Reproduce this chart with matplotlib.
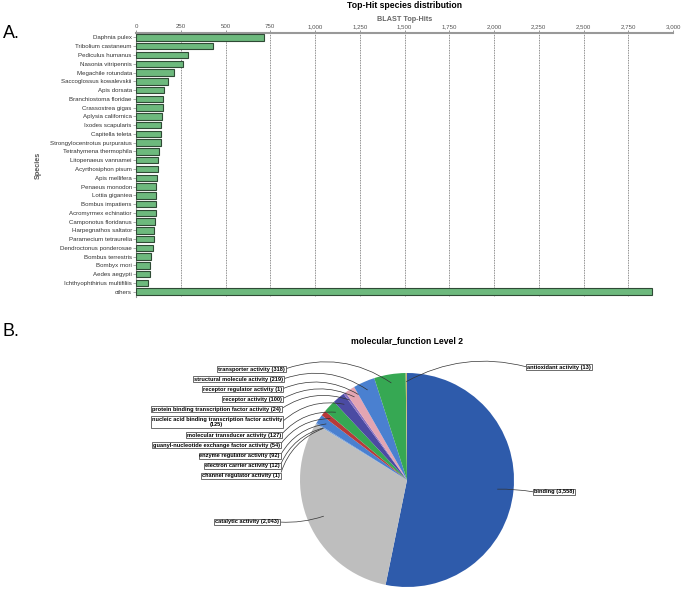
import matplotlib
matplotlib.use("Agg")
import matplotlib.pyplot as plt
import numpy as np

plt.rcParams['font.family'] = ['Liberation Sans', 'DejaVu Sans']

# Panel A data: BLAST top-hit species
species = ["Daphnia pulex", "Tribolium castaneum", "Pediculus humanus", "Nasonia vitripennis",
           "Megachile rotundata", "Saccoglossus kowalevskii", "Apis dorsata", "Branchiostoma floridae",
           "Crassostrea gigas", "Aplysia californica", "Ixodes scapularis", "Capitella teleta",
           "Strongylocentrotus purpuratus", "Tetrahymena thermophila", "Litopenaeus vannamei",
           "Acyrthosiphon pisum", "Apis mellifera", "Penaeus monodon", "Lottia gigantea",
           "Bombus impatiens", "Acromyrmex echinatior", "Camponotus floridanus", "Harpegnathos saltator",
           "Paramecium tetraurelia", "Dendroctonus ponderosae", "Bombus terrestris", "Bombyx mori",
           "Aedes aegypti", "Ichthyophthirius multifiliis", "others"]
hits = [715, 428, 289, 261, 210, 179, 156, 149, 149, 145, 140, 138, 138, 127, 123,
        125, 116, 112, 110, 110, 110, 104, 98, 98, 95, 82, 76, 76, 65, 2880]
hit_ticks = list(range(0, 3001, 250))

# Panel B data: molecular_function level 2
functions = ["binding", "catalytic activity", "channel regulator activity", "electron carrier activity",
             "enzyme regulator activity", "guanyl-nucleotide exchange factor activity",
             "molecular transducer activity", "nucleic acid binding transcription factor activity",
             "protein binding transcription factor activity", "receptor activity",
             "receptor regulator activity", "structural molecule activity", "transporter activity",
             "antioxidant activity"]
counts = [3558, 2043, 1, 12, 92, 54, 127, 125, 24, 100, 1, 219, 318, 13]
colors = ["#2e5bab", "#bebebe", "#d9c24a", "#7aa0d8", "#4a80d0", "#b83a3a", "#36a853",
          "#4b4ba3", "#8a6fc0", "#e4a5b2", "#c06090", "#4a80d0", "#36a853", "#c8b878"]
# label box positions (pixels from top-left of the figure)
label_x = [534, 279, 280, 280, 280, 280, 281, 282, 281, 282, 282, 283, 285, 527]
label_y = [492, 522, 476, 466, 456, 445, 435, 422, 409, 399, 389, 379, 369, 367]

W, H = 685, 589
fig = plt.figure(figsize=(W / 100, H / 100), dpi=100)

# ---------------- A. bar chart ----------------
ax1 = fig.add_axes([136 / W, 1 - 297 / H, (673 - 136) / W, (297 - 33) / H])
y = np.arange(len(species))
ax1.barh(y, hits, height=0.74, color="#6db97d", edgecolor="#2f4a35", linewidth=0.8, zorder=3)
ax1.set_ylim(len(species) - 0.4, -0.51)
ax1.set_xlim(0, 3000)
ax1.set_yticks(y)
ax1.set_yticklabels(species, fontsize=4.4, color="#333333")
ax1.xaxis.tick_top()
ax1.xaxis.set_label_position("top")
ax1.set_xticks(hit_ticks)
ax1.set_xticklabels([f"{t:,}" for t in hit_ticks], fontsize=4.4, color="#555555")
ax1.set_xlabel("BLAST Top-Hits", fontsize=5.2, color="#666666", fontweight="bold", labelpad=2)
ax1.set_ylabel("Species", fontsize=5.2, color="#555555", fontweight="bold", labelpad=6)
ax1.tick_params(axis="x", length=2, width=0.6, color="#888888", pad=1)
ax1.tick_params(axis="y", length=2, width=0.5, color="#888888", pad=1)
ax1.grid(axis="x", linestyle=(0, (1, 1)), color="#666666", linewidth=0.6, zorder=0)
for s in ["right", "bottom"]:
    ax1.spines[s].set_visible(False)
ax1.spines["top"].set_color("#999999")
ax1.spines["top"].set_linewidth(1.5)
ax1.spines["left"].set_color("#999999")
ax1.spines["left"].set_linewidth(0.8)
ax1.set_title("Top-Hit species distribution", fontsize=6.2, fontweight="bold", pad=18)

fig.text(3 / W, 1 - 34 / H, "A.", fontsize=13, va="center", ha="left")
fig.text(3 / W, 1 - 332 / H, "B.", fontsize=13, va="center", ha="left")

# ---------------- B. pie chart ----------------
ax2 = fig.add_axes([0, 0, 1, 1])
cx, cy, r = 407, H - 480, 107
wedges, _ = ax2.pie(counts, colors=colors, startangle=90, counterclock=False,
                    center=(cx, cy), radius=r, frame=True)
ax2.set_xlim(0, W)
ax2.set_ylim(0, H)
ax2.axis("off")
ax2.text(407, H - 341, "molecular_function Level 2", fontsize=6.2, fontweight="bold",
         ha="center", va="center")

box = dict(boxstyle="square,pad=0.15", fc="white", ec="#555555", lw=0.6)
for i, w in enumerate(wedges):
    mid = np.deg2rad((w.theta1 + w.theta2) / 2)
    rr = 0.85 * r if i < 2 else 0.92 * r
    px, py = cx + rr * np.cos(mid), cy + rr * np.sin(mid)
    txt = f"{functions[i]} ({counts[i]:,})"
    if functions[i].startswith("nucleic"):
        txt = f"{functions[i]}\n({counts[i]:,})"
    left_side = label_x[i] < cx
    if i == 1:
        rad = 0.1
    elif i == 0:
        rad = 0.05
    elif left_side:
        rad = -0.25
    else:
        rad = 0.2
    ax2.annotate(txt, xy=(px, py), xytext=(label_x[i], H - label_y[i]),
                 fontsize=4.1, fontweight="bold", ha="right" if left_side else "left",
                 va="center", multialignment="center", bbox=box,
                 arrowprops=dict(arrowstyle="-", color="#333333", lw=0.5,
                                 relpos=(1, 0.5) if left_side else (0, 0.5),
                                 connectionstyle=f"arc3,rad={rad}", shrinkA=0, shrinkB=0))

fig.savefig("out.png", dpi=100)
